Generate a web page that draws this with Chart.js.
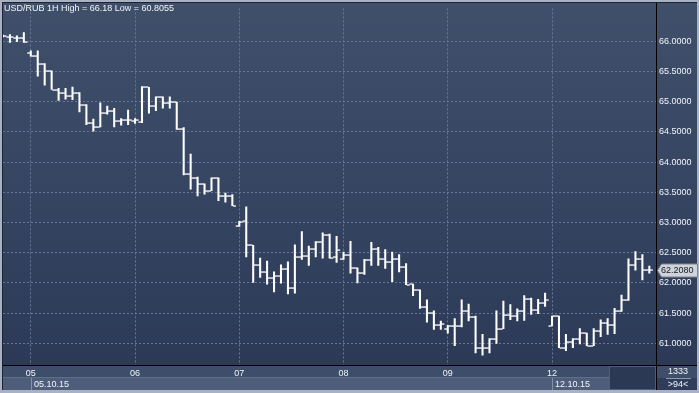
<!DOCTYPE html>
<html>
<head>
<meta charset="utf-8">
<script src="https://cdn.jsdelivr.net/npm/chart.js@4/dist/chart.umd.min.js"></script>
<style>
    html, body { margin: 0; padding: 0; background: #2f3d5a; }
    canvas { display: block; }
</style>
</head>
<body>
<canvas id="ohlcChart" width="699" height="393"></canvas>
<script>
// USD/RUB hourly bars, 02.10.15 (last 4) .. 12.10.15
const openVals = [
    66.08, 66.07, 66.06, 66.06, 65.80, 65.76, 65.625, 65.505, 65.20, 65.15,
    65.09, 65.15, 64.95, 64.65, 64.58, 64.81, 64.84, 64.68, 64.69, 64.68,
    64.66, 65.235, 64.925, 65.07, 64.98, 64.99, 64.55, 63.795, 63.73, 63.64,
    63.525, 63.74, 63.44, 63.44, 62.94, 63.02, 62.62, 62.30, 62.18, 62.076,
    62.12, 62.23, 61.92, 62.43, 62.45, 62.555, 62.67, 62.80, 62.43, 62.39,
    62.46, 62.25, 62.16, 62.38, 62.555, 62.39, 62.35, 62.39, 62.27, 61.98,
    61.885, 61.60, 61.50, 61.31, 61.24, 61.28, 61.29, 61.54, 61.43, 60.92,
    60.93, 61.07, 61.245, 61.47, 61.46, 61.53, 61.73, 61.56, 61.67, 61.29,
    61.45, 60.93, 61.02, 61.07, 61.17, 60.96, 61.21, 61.33, 61.31, 61.53,
    61.72, 62.29, 62.40, 62.21
];
const highVals = [
    66.10, 66.11, 66.09, 66.14, 65.84, 65.84, 65.63, 65.51, 65.22, 65.22,
    65.24, 65.15, 64.95, 64.71, 64.98, 64.925, 64.89, 64.72, 64.86, 64.72,
    65.25, 65.235, 65.08, 65.08, 65.08, 64.99, 64.57, 64.13, 63.75, 63.64,
    63.74, 63.74, 63.485, 63.46, 63.02, 63.26, 62.62, 62.41, 62.36, 62.185,
    62.30, 62.35, 62.63, 62.85, 62.61, 62.685, 62.83, 62.81, 62.77, 62.51,
    62.69, 62.25, 62.39, 62.67, 62.59, 62.55, 62.51, 62.47, 62.32, 61.98,
    61.885, 61.72, 61.54, 61.37, 61.30, 61.41, 61.72, 61.65, 61.45, 61.15,
    61.08, 61.54, 61.70, 61.64, 61.57, 61.79, 61.75, 61.73, 61.83, 61.45,
    61.45, 61.15, 61.08, 61.245, 61.17, 61.245, 61.39, 61.41, 61.58, 61.80,
    62.40, 62.52, 62.47, 62.28
];
const lowVals = [
    66.07, 65.98, 65.99, 65.98, 65.75, 65.42, 65.27, 65.20, 65.02, 65.04,
    65.03, 64.83, 64.62, 64.51, 64.58, 64.79, 64.58, 64.61, 64.62, 64.64,
    64.65, 64.81, 64.85, 64.89, 64.89, 64.54, 63.785, 63.55, 63.44, 63.47,
    63.525, 63.36, 63.335, 63.28, 62.935, 62.43, 62.01, 62.09, 61.98, 61.85,
    61.995, 61.82, 61.83, 62.39, 62.29, 62.43, 62.41, 62.41, 62.34, 62.39,
    62.16, 62.00, 62.14, 62.29, 62.29, 62.24, 62.02, 62.18, 61.97, 61.79,
    61.58, 61.35, 61.23, 61.23, 61.17, 60.96, 61.27, 61.37, 60.84, 60.8055,
    60.84, 61.00, 61.245, 61.39, 61.37, 61.38, 61.48, 61.49, 61.61, 61.29,
    60.93, 60.88, 60.93, 60.99, 60.96, 60.96, 61.11, 61.15, 61.16, 61.53,
    61.71, 62.21, 62.05, 62.16
];
const closeVals = [
    66.08, 66.07, 66.06, 65.98, 65.76, 65.625, 65.505, 65.20, 65.15, 65.09,
    65.15, 64.95, 64.65, 64.58, 64.81, 64.84, 64.68, 64.69, 64.69, 64.69,
    65.235, 64.925, 65.07, 64.98, 64.99, 64.55, 63.795, 63.73, 63.64, 63.525,
    63.74, 63.43, 63.44, 63.28, 63.00, 62.62, 62.30, 62.18, 62.076, 62.12,
    62.23, 61.92, 62.43, 62.45, 62.555, 62.67, 62.80, 62.41, 62.55, 62.46,
    62.25, 62.16, 62.38, 62.555, 62.39, 62.35, 62.39, 62.27, 61.97, 61.885,
    61.60, 61.50, 61.31, 61.32, 61.28, 61.29, 61.54, 61.43, 60.92, 60.93,
    61.07, 61.245, 61.47, 61.46, 61.53, 61.73, 61.56, 61.67, 61.71, 61.45,
    60.93, 61.02, 61.07, 61.17, 60.96, 61.21, 61.33, 61.31, 61.53, 61.72,
    62.29, 62.40, 62.22, 62.208
];

// first bar of each day and its label
const dayStart = [4, 19, 34, 49, 64, 79];
const dayLabels = ["05", "06", "07", "08", "09", "12"];
const weekStart = [4, 79];
const weekLabels = ["05.10.15", "12.10.15"];
const yTicks = [61.0, 61.5, 62.0, 62.5, 63.0, 63.5, 64.0, 64.5, 65.0, 65.5, 66.0];

const titleText = "USD/RUB 1H High = 66.18 Low = 60.8055";
const FONT = '"Liberation Sans", Arial, sans-serif';
const gridColor = "#66779a";

// background panels
const backdrop = {
    id: "backdrop",
    beforeDraw(chart) {
        const ctx = chart.ctx;
        const W = chart.width, H = chart.height;
        ctx.save();
        let g = ctx.createLinearGradient(0, 0, 0, 365);
        g.addColorStop(0, "#40506b");
        g.addColorStop(1, "#2c3a57");
        ctx.fillStyle = g;
        ctx.fillRect(0, 0, W, 366);

        // bottom strip
        ctx.fillStyle = "#3e4d69";
        ctx.fillRect(0, 366, W, 12);
        ctx.fillStyle = "#4e5d79";
        ctx.fillRect(3, 378, 606, 12);
        ctx.fillStyle = "#5e6d88";
        ctx.fillRect(3, 377, 606, 1);
        ctx.fillStyle = "#2c3955";
        ctx.fillRect(609, 366, 47, 24);
        ctx.strokeStyle = "#4f5f7b";
        ctx.lineWidth = 1;
        ctx.strokeRect(609.5, 366.5, 46, 23);

        // outer frame
        ctx.fillStyle = "#a8b2c4";
        ctx.fillRect(0, 0, W, 2);
        ctx.fillRect(0, 390, W, 3);
        ctx.fillRect(0, 0, 2, H);
        ctx.fillRect(W - 2, 0, 2, H);
        ctx.fillStyle = "#1c2434";
        ctx.fillRect(2, 2, W - 4, 1);
        ctx.fillRect(2, 2, 1, 388);
        ctx.restore();
    },
};

// open / close ticks
const ohlcTicks = {
    id: "ohlcTicks",
    afterDatasetsDraw(chart) {
        const ctx = chart.ctx;
        const xs = chart.scales.x, ys = chart.scales.y;
        const a = chart.chartArea;
        ctx.save();
        ctx.beginPath();
        ctx.rect(a.left, a.top, a.right - a.left, a.bottom - a.top);
        ctx.clip();
        ctx.fillStyle = "#ffffff";
        openVals.forEach((o, i) => {
            const x = xs.getPixelForValue(i);
            const yo = Math.round(ys.getPixelForValue(o));
            const yc = Math.round(ys.getPixelForValue(closeVals[i]));
            ctx.fillRect(x - 3.6, yo - 0.6, 3, 1.3);
            ctx.fillRect(x + 0.6, yc - 0.6, 3, 1.3);
        });
        ctx.restore();
    },
};

// texts and labels outside the plot
const overlay = {
    id: "overlay",
    afterDraw(chart) {
        const ctx = chart.ctx;
        const xs = chart.scales.x, ys = chart.scales.y;
        const a = chart.chartArea;
        ctx.save();
        ctx.fillStyle = "#000000";
        ctx.fillRect(Math.round(a.right), 3, 1, 387);
        ctx.fillRect(3, Math.round(a.bottom), chart.width - 5, 1);

        ctx.font = "9px " + FONT;
        ctx.textBaseline = "middle";
        ctx.fillStyle = "#f2f5fa";
        ctx.textAlign = "left";
        ctx.fillText(titleText, 4, 8.5);

        // week labels
        weekStart.forEach((b, k) => {
            const x = Math.round(xs.getPixelForValue(b));
            ctx.fillStyle = "#8491a8";
            ctx.fillRect(x, 378, 1, 12);
            ctx.fillStyle = "#f2f5fa";
            ctx.fillText(weekLabels[k], x + 3, 384.5);
        });

        // bar counter
        ctx.textAlign = "center";
        ctx.fillText("1333", 678, 371.5);
        ctx.fillText(">94<", 678, 384.5);
        ctx.fillStyle = "#8d99ad";
        ctx.fillRect(666, 378, 25, 1);

        // last price marker
        const last = closeVals[closeVals.length - 1];
        const yl = Math.round(ys.getPixelForValue(last)) + 0.5;
        ctx.beginPath();
        ctx.moveTo(657.5, yl);
        ctx.lineTo(661.5, yl - 6.5);
        ctx.lineTo(697.5, yl - 6.5);
        ctx.lineTo(697.5, yl + 6.5);
        ctx.lineTo(661.5, yl + 6.5);
        ctx.closePath();
        ctx.fillStyle = "#cfd3da";
        ctx.fill();
        ctx.strokeStyle = "#7e8592";
        ctx.lineWidth = 1;
        ctx.stroke();
        ctx.fillStyle = "#15181e";
        ctx.textAlign = "left";
        ctx.fillText(last.toFixed(4), 661, yl);
        ctx.restore();
    },
};

const chart = new Chart(document.getElementById("ohlcChart"), {
    type: "bar",
    data: {
        datasets: [
            {
                data: highVals.map((h, i) => ({ x: i, y: [lowVals[i], h] })),
                backgroundColor: "#ffffff",
                borderWidth: 0,
                barThickness: 1.4,
            },
        ],
    },
    options: {
        responsive: false,
        animation: false,
        events: [],
        layout: { padding: { left: 3, top: 3 } },
        plugins: {
            legend: { display: false },
            tooltip: { enabled: false },
        },
        scales: {
            x: {
                type: "linear",
                offset: false,
                min: 0,
                max: 93.96,
                afterBuildTicks: (scale) => {
                    scale.ticks = dayStart.map((v) => ({ value: v }));
                },
                afterFit: (scale) => {
                    scale.height = 28;
                },
                ticks: {
                    autoSkip: false,
                    maxRotation: 0,
                    padding: 3,
                    color: "#f2f5fa",
                    font: { family: FONT, size: 9 },
                    callback: (v) => dayLabels[dayStart.indexOf(v)],
                },
                grid: { offset: false, color: gridColor, lineWidth: 1, drawTicks: false },
                border: { display: false, dash: [2, 2] },
            },
            y: {
                position: "right",
                min: 60.642,
                max: 66.542,
                afterBuildTicks: (scale) => {
                    scale.ticks = yTicks.map((v) => ({ value: v }));
                },
                afterFit: (scale) => {
                    scale.width = 43;
                },
                ticks: {
                    padding: 3,
                    color: "#f2f5fa",
                    font: { family: FONT, size: 9 },
                    callback: (v) => Number(v).toFixed(4),
                },
                grid: { color: gridColor, lineWidth: 1, drawTicks: false },
                border: { display: false, dash: [2, 2] },
            },
        },
    },
    plugins: [backdrop, ohlcTicks, overlay],
});
</script>
</body>
</html>
